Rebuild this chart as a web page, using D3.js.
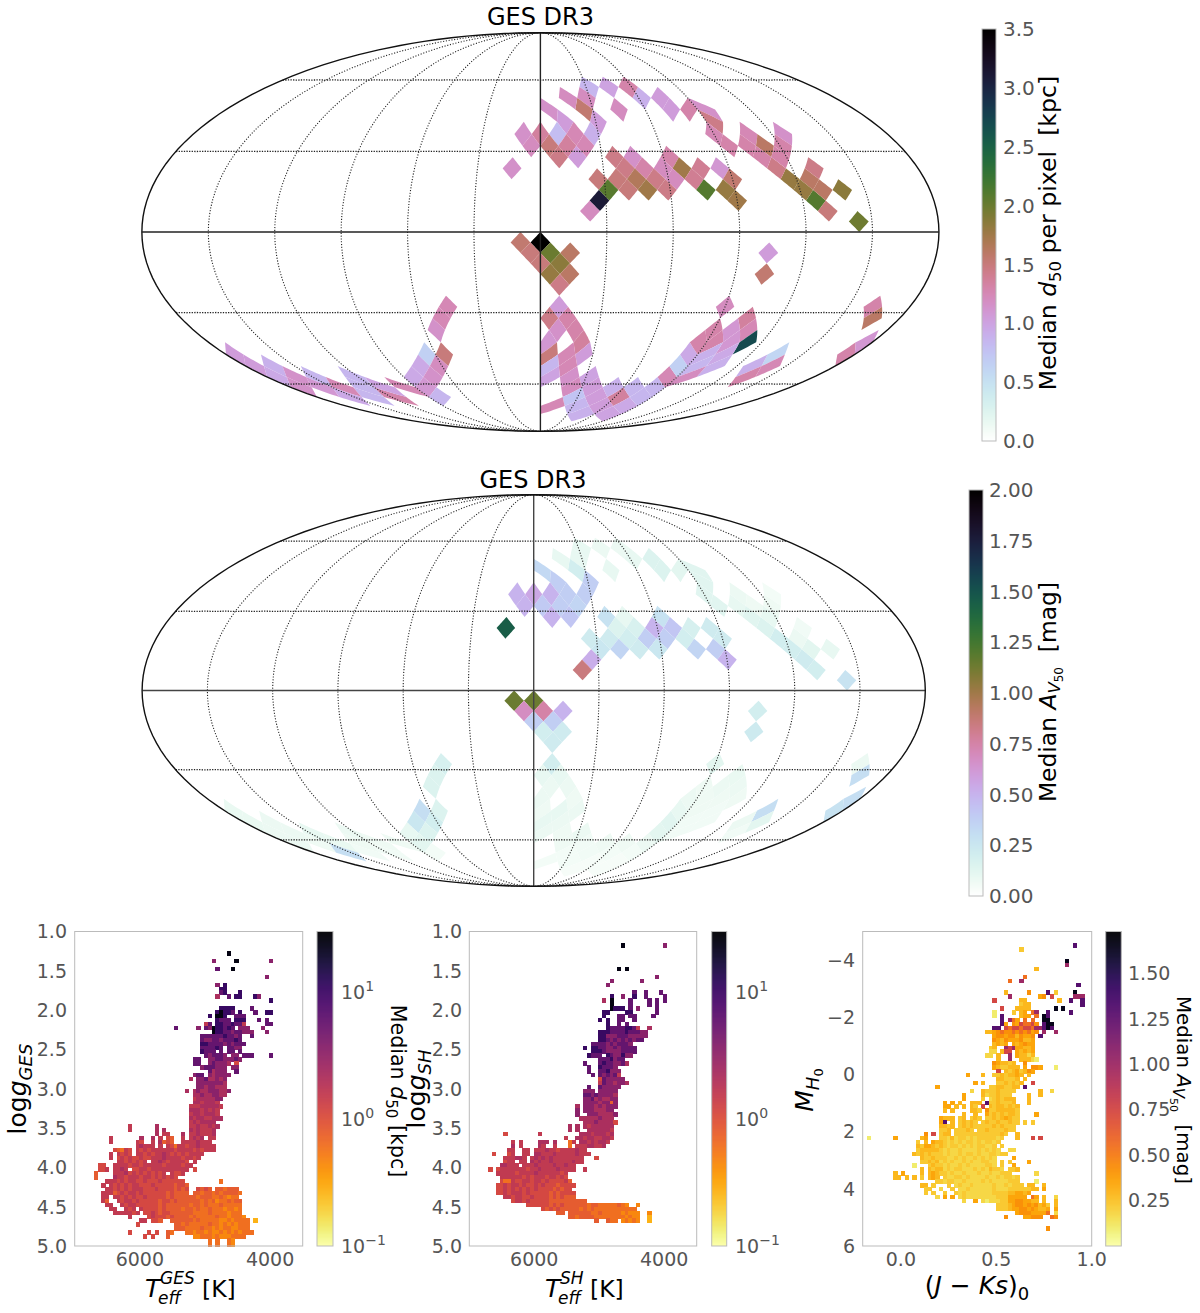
<!DOCTYPE html>
<html><head><meta charset="utf-8"><style>
body{margin:0;background:#fff}
text{font-family:"DejaVu Sans",sans-serif}
</style></head><body><svg id="s" width="1200" height="1313"></svg>
<script src="https://cdn.jsdelivr.net/npm/d3@7"></script>
<script>
// HEALPix pixels (ring,column in half-steps), nside 10
const pixelIds=["19,32","17,28","18,29","16,31","16,29","15,28","14,29","15,26","14,25","16,27","11,24","11,28","12,25","12,23","12,27","13,24","13,26","9,18","9,22","10,21","11,20","12,21","8,15","9,16","8,13","7,12","7,10","7,8","8,7","9,6","8,5","9,10","9,2","10,3","11,2","11,4","11,6","10,7","12,3","12,1","12,5","11,0","11,-2","12,-1","13,2","13,4","14,-3","13,8","13,10","14,9","14,11","13,14","14,13","14,15","14,17","14,19","15,20","15,16","15,14","15,12","15,10","15,8","15,6","16,7","16,9","16,11","16,13","16,17","16,19","17,20","17,6","18,5",
"21,0","21,-2","22,1","22,-1","22,3","23,0","23,2","24,1","24,3","25,2","27,2","28,1","28,3","29,2","29,4","30,1","30,5","31,2","31,4","31,6","32,3","32,5","33,4","33,6","33,8","34,7","34,9","35,8","35,10","36,7","36,9","36,11","37,10","37,12","35,12","36,13","34,11","34,13","35,14","34,15","33,16","32,17","31,18","30,19","29,20","30,21","30,23","28,23","29,24","29,22","30,25","31,22","31,24","32,23","32,25","33,24","27,20","31,30","32,29","33,30","32,31","27,36","28,37","31,38","30,39","22,23","24,23","27,-10","28,-11","29,-12","31,-12","31,-14","32,-13","32,-15","33,-16","33,-14","34,-15","35,-14","34,-25","35,-28","35,-30","34,-29","34,-27","33,-32","34,-35","34,-33","34,-31","33,-28","35,-32","31,-38","32,-35","32,-37","33,-36","33,-34"];
const d50Median=[1.98,2.1,1.5,1.85,1.6,1.6,1.45,1.8,1.45,1.8,1.25,1.15,1.6,1.3,1.3,1.3,1.3,1.3,1.15,1.45,1.25,1.3,1.05,1.05,.9,1.3,1,.85,1.2,1.55,1.2,1.2,1.15,1.05,.8,1.25,.9,1.05,1.35,1.5,1.25,1.35,1.15,1.2,1.45,1.05,1.15,1.45,1.15,1.45,1.3,1.3,1.2,1.75,1.4,1.1,1.55,1.4,1.2,1.45,1.65,1.5,1.5,2.08,1.5,1.75,1.45,2.1,1.8,1.75,3.1,1.2,
3.5,1.55,2,1.5,1.6,1.5,1.85,1.8,1.6,1.45,1.05,1.45,1.3,1.15,1.3,1.1,1.35,1.5,1.25,1.05,.85,1.25,1,1.15,1,1.2,1.05,.75,1.05,1.25,.85,1.05,.9,1,1.35,.95,.9,.85,.85,.85,1.25,.65,.95,1.3,1.3,1.3,1.1,1.35,1.25,1.1,2.7,.9,.95,.85,.9,1.2,1.2,.6,.9,1.3,1.25,1.3,1.6,1.3,1.1,1.05,1.55,1.25,1.25,1.15,1.5,.65,1.2,.95,.95,1.15,1.1,.85,1.25,1.3,.85,.85,1,.85,1.15,1.1,1.25,.85,.95,1.05,.9,1.05,.95,1.15];
const avMedian=[.27,.22,.2,.1,.12,.08,.06,.2,.15,.2,.08,.05,.07,.1,.07,.13,.1,.12,.13,.13,.13,.13,.15,.15,.1,.08,.08,.1,.1,.2,.1,.1,.33,.38,.5,.38,.38,.38,.38,.4,.35,.55,.5,.5,.5,.42,1.45,.28,.1,.15,.17,.28,.5,.42,.18,.22,.22,.2,.38,.38,.2,.22,.22,.25,.35,.22,.25,.35,.38,.5,.52,.85,
1.14,1.14,.75,.68,.5,.38,.38,.2,.22,.22,.2,.1,.1,.08,.08,.08,.07,.07,.1,.08,.1,.08,.08,.07,.08,.07,.06,.05,.06,.05,.05,.04,.04,.04,.05,.04,.07,.07,.05,.08,.12,.13,.1,.08,.07,.07,.07,.09,.08,.08,.07,.07,.06,.06,.06,.06,.12,.3,.08,.06,.12,.08,.3,.28,.3,.2,.23,.18,.15,.15,.15,.3,.2,.25,.1,.15,.12,.05,.07,.06,.06,.07,.07,.1,.08,.07,.09,.08,.3,.09,.08,.09,.08,.08];

// 2D histogram rows: "startCol:levels" per row, 60 columns by 80 rows
const teffGesRows={5:"40:x",7:"36:7 42:x 51:7",9:"37:8 41:x",11:"50:7",13:"37:7 39:9",14:"38:99",15:"38:89 43:9",16:"37:6 40:8 42:99 47:97",17:"51:9",19:"38:9999 46:8",20:"37:9x99 41:8 43:9 47:8 50:99",21:"35:9 37:xx9 42:8 43:88",22:"37:988 40:8 42:999 48:8 50:8",23:"34:5 35:8 37:9988 41:9 42:88 44:5 50:88",24:"26:8 32:7 34:87 36:x9989 41:8 43:777 49:7",25:"36:x99887 42:88777 50:7",26:"33:888 36:8889887 43:8 46:8",27:"33:87788 38:788898",28:"33:9988 37:88787888",29:"33:8888 37:98 40:8877",30:"33:9888 38:8 40:88 43:8",31:"34:878 37:887 41:77 44:888 51:8",32:"31:88 35:7788 39:77 41:787",33:"31:88 35:787 38:7 39:76 42:4",34:"33:7888 37:777 41:77",35:"35:8 36:6777 42:8",36:"31:788 35:7 36:67776 40:7",37:"30:6 32:778 35:66767",38:"32:77 34:77776 38:7 39:6",39:"32:77 34:67767 38:66",40:"29:6 31:6766 35:77766 40:7",41:"31:66766776 39:6",42:"31:56666677",43:"31:6656665",44:"30:555 33:666665",45:"30:6665 34:6 35:565",46:"30:56656 35:665",47:"30:6566 34:55666",48:"30:5656 34:666",49:"14:5 21:6 30:5565 34:5656",50:"14:5 21:6 23:6 30:6565 34:556",51:"21:6 23:55 28:6 30:55655 35:56",52:"9:5 17:6 20:6 22:5 24:43 28:5 30:5656 35:55",53:"9:5 16:54 20:5 22:6 23:3 24:43 28:55 30:55655 35:5",54:"16:565 19:55 22:5 24:542 27:55 29:45565 34:55 36:5",55:"10:432 13:54 16:5454555 23:55 25:5 26:45555454555",56:"9:5 11:5454 16:55454 21:55654 26:54545555",57:"9:5 11:4545 15:4 16:45445 21:5565 25:55545545",58:"11:554 14:5 15:4545 20:55654 25:55 27:554 31:5",59:"6:44 10:5555 14:455 17:45555 22:54 24:5 25:55544 29:55",60:"6:445 10:5565 15:4 16:4554 20:555 23:55 25:555 28:5 29:5 31:4",61:"5:3 10:5 11:556 14:4 15:5 16:4545 20:4545 25:5445",62:"5:3 10:655 13:4 14:55 16:545 19:5454 23:5454",63:"8:5 9:55 11:454 14:554 17:4544 21:454 24:4444 28:4 38:2",64:"7:5 9:54545 14:4 15:5544 19:4544 23:444 26:344 29:3",65:"8:5 9:54 11:5 12:4545 16:5544 20:4544 24:4434 28:34 32:4343 37:3323 41:33",66:"7:55 9:5 10:3 11:4545 15:5454 19:4444 23:4343 27:333 31:3323 35:32323 40:3332",67:"7:55 10:5 11:5454 15:5445 19:4444 23:4343 27:3333 31:3233 35:32 37:23 39:2 40:1 41:22",68:"7:53 11:54 13:5545 17:4444 21:4344 25:3433 29:3333 33:2323 37:1223 41:233",69:"8:55 12:5 13:4554 17:4444 21:4343 25:3333 29:3233 33:2322 37:2322 41:2 42:22",70:"9:55 13:545 17:5444 21:4343 25:3332 29:3323 33:2232 37:2212 41:212",71:"10:55555 15:4 16:5 18:4454 22:3443 26:3333 30:3222 34:2322 38:2212 42:22",72:"14:5 19:4544 23:4343 27:3332 31:3222 35:2232 39:2122 43:2 44:1",73:"17:55 20:443 25:33 27:3333 31:2322 35:2221 39:1212 43:222 47:0",74:"16:4 26:332 29:3222 33:2232 37:2121 41:2122 45:2",75:"26:33 28:3222 32:2322 36:1212 40:2112 44:22",76:"14:4 19:4 21:4 24:32 29:2212 33:2121 37:1212 41:1212 45:22",77:"18:4 20:4 24:3 31:1122 35:2121 39:1122 43:22",78:"35:2 37:2 40:21",79:"35:2 37:2 40:21"};
const teffShRows={3:"40:x 51:7",9:"39:x 41:x",11:"49:7",12:"37:7 45:7",13:"36:7",15:"43:8 46:8 50:8",16:"37:9 40:7 43:9 46:8 51:8",17:"35:6 37:x 42:8 47:8 49:8 51:8",18:"37:x 42:8 47:8 49:8",19:"37:x999 42:8 44:7 49:8",20:"35:99 41:99 49:8",21:"35:9 39:88 42:88 48:8",22:"34:9 36:9 39:88 43:8",23:"36:9 39:8 41:8",24:"36:98888 41:998 44:5 47:6",25:"34:9 35:99888 40:898 43:8877",26:"34:9 35:9 36:7778 40:88 42:777 45:77",27:"34:99 36:8787 40:8787 44:88",28:"32:8888 36:7878 40:887",29:"30:9 32:9988 36:7787 40:8888",30:"32:9998 36:7777 40:8888",31:"31:9 32:888 36:9877 40:9 41:77",32:"34:8889 38:788",33:"30:8 34:898 37:8778 41:6",34:"31:8 34:98 36:8 37:87",35:"31:8 34:889 37:777",36:"32:8 34:8 35:7878 39:5",37:"34:4 35:877 38:777",38:"34:5 35:877 38:6776",39:"31:8 34:877 37:777",40:"30:777 34:77 36:776 38:7",41:"30:8878 34:777 37:76",42:"30:7 31:7867 35:66 37:77",43:"30:77 32:7 33:7677 37:37",44:"28:6 30:777 33:6767 37:77",45:"28:7 30:777 33:6667 37:7",46:"28:7 31:7776 35:6667",47:"29:66 31:6667 35:666",48:"30:6667 34:66665 38:4",49:"26:6 28:6 30:6566 34:6666",50:"26:6 28:6 31:6666 35:665",51:"9:4 18:5 29:6 30:6656 34:6656",52:"25:5 28:66 30:5665 34:5665",53:"11:5 13:5 18:666 22:6 26:2 27:5 29:6656 33:5665",54:"11:6 13:5 18:65 22:5 26:2 28:5 29:5566 33:556",55:"10:55 14:55 17:55565 22:5455 26:5 27:5655",56:"6:4 10:4 11:5 14:55 17:6655 21:5655 25:5 26:5565 30:55",57:"9:555 12:6 13:65 16:565 19:6565 23:5555 27:555 33:4",58:"9:455 13:5 14:5 16:6565 20:5655 24:5556 28:55",59:"8:6655 12:5 14:5 15:5 16:5655 20:5565 24:5655",60:"5:4 7:45 9:5555 12:5 13:55 15:4 16:5565 20:5556 24:5555 30:5",61:"7:555 10:55 12:4555 16:5655 20:5555 24:45",62:"8:5 9:5 10:555 12:5 13:5454 17:5554 21:5545 25:4",63:"8:4 9:225 11:544 14:5545 18:5454 22:4445 26:3",64:"7:44 9:545 12:5454 16:4545 20:4443 24:4444",65:"7:4 8:45 10:4545 14:4545 18:4444 22:3434 26:4",66:"7:44 9:545 12:5545 16:4444 20:4343 24:444 27:4",67:"9:55 11:45 13:5445 17:4444 21:3434 25:333",68:"11:45 13:5454 17:4444 21:3333 25:3333 29:3 30:3",69:"15:44 17:4444 21:3434 25:3333 29:3323 33:3222 37:2232 41:1 44:1",70:"19:4 20:3434 24:3333 28:3232 32:3222 36:2222 40:2222",71:"23:33 26:3333 30:3322 34:3222 38:2212 42:11 44:1 47:1",72:"26:3 27:3233 31:3322 35:2222 39:2212 43:11 47:0",73:"33:3 36:322 40:1212 44:1 47:0"};
const jkRows={3:"55:p",4:"41:3",7:"53:x",8:"53:9",9:"45:4",11:"42:7",12:"38:7 41:9",13:"56:p",15:"37:4 43:6 48:p 50:3 55:x",16:"38:9 46:56 49:8 55:999",17:"34:8 41:44 51:4 54:p 57:p",18:"41:344 57:p",19:"36:8 40:4444 50:x 52:x",20:"34:1 39:3 41:45 44:79 48:p 54:p",21:"34:1 36:p 41:4 42:55 45:7 47:xp",22:"36:p 38:9 39:75 42:7 44:7 47:xx",23:"36:p 37:5 39:6587 43:786 47:pxx",24:"34:pp 37:8788 41:7887 45:9 46:9 47:pxp",25:"32:4 33:45 35:6 36:7667 40:6767 44:56 47:9 50:9",26:"34:5 35:6656 39:6465 43:56 46:p",27:"34:6 35:5465 39:5564 43:45",28:"34:4 35:545 39:545 42:655",29:"33:34 37:989 40:55 42:445",30:"33:2 34:2 36:4 37:8 38:8 40:545 43:45",31:"32:22 35:4 38:9 40:54 42:424",32:"35:4 38:9 41:444 44:21",33:"34:65 36:4 37:4 38:34 42:6",34:"34:5 35:43 37:34 39:44 42:5 44:665 50:1",35:"35:8 37:4345 41:34 43:65",36:"27:5 31:4 34:3 35:34 37:3445 41:4 43:4",37:"35:443 38:334 42:4",38:"29:5 31:4 35:33 37:4343 41:4 44:8",39:"19:5 33:3 34:3443 38:344 42:p",40:"28:2 31:4 32:33 34:3433 38:33 46:4 49:2",41:"26:5 31:4 32:23 34:3433 38:3 43:4 46:4",42:"26:5 31:3 33:234 36:344 39:4 43:4",43:"21:5 23:5 25:4 28:44 30:4 32:p 33:3343 37:334 43:4",44:"21:55 24:4 26:4 28:4 29:3 31:8 33:4344 37:3434",45:"21:4 23:4 28:44 30:3 32:6 33:3344 37:4443",46:"26:4 29:4 32:5 33:3434 37:3443 45:5",47:"20:5 21:44 23:4 25:3 26:4 28:343 32:3343 36:4543 40:3",48:"20:5 21:p 23:4 25:34 27:343 31:3433 35:4334 39:33 42:3 44:3",49:"20:4 21:43 23:4 25:34 27:3433 31:3334 35:3433 39:3",50:"20:3 21:34 24:3 25:3 26:343 30:3343 34:3334 38:33",51:"16:6 18:8 20:34 22:4 24:33 26:333 29:3333 33:3334 37:3 40:4",52:"1:1 8:5 15:45 20:33 22:24 24:2 25:3 26:3232 30:3333 34:323 40:4 44:8 46:8",53:"14:3 16:4 18:54 20:4 21:323 24:2323 28:3232 32:3323",54:"14:4 15:3 16:5 17:54 19:34 21:323 24:3232 28:3233 32:223 36:3",55:"14:34 16:4 17:4 18:4 19:4 20:3232 24:2322 28:2232 32:3232 38:22",56:"13:43 15:4 16:34 18:33 20:3232 24:2323 28:3232 32:2332 36:3 37:3",57:"15:4 16:33 18:4 19:3 20:3322 24:3232 28:2323 32:232 39:5",58:"15:33 17:43 19:4 20:2323 24:2232 28:3223 32:322 36:3 38:3 43:5",59:"13:1 17:34 19:33 21:2322 25:3232 29:2223 33:32 36:3 39:5",60:"15:4 17:43 19:4 20:4 21:2323 25:3222 29:3232 33:4 34:332 38:33 40:4",61:"8:4 10:5 15:4 17:45 19:43 21:3232 25:2322 29:2322 33:3223 37:33 45:2",62:"8:44 11:4 13:4 15:3 17:4 18:5 19:4 21:3223 25:3232 29:2223 33:2232 37:332 40:3",63:"19:33 21:2332 25:2322 29:2232 33:3222 37:2333 45:1",64:"15:44 18:3 22:3 24:232 27:2322 31:2223 35:2232 39:333 43:44 47:4",65:"16:33 20:2 23:3 25:223 28:2222 32:2232 36:2233 40:3333 44:44 47:5",66:"16:3 18:3 21:3 24:32 26:3222 30:2222 34:3333 38:4455 42:4 43:5",67:"19:2 21:5 23:5 25:2 26:3222 30:2222 34:2333 38:5555 42:5 44:75 47:4 50:2",68:"26:2 29:5 31:2122 35:2333 38:5566 42:55 44:44 47:4 50:4",69:"35:3334 38:4566 42:5656 46:45 48:3 50:4",70:"35:3334 38:4556 42:6565 46:445 50:5",71:"40:5 41:66 43:6555 47:57 50:2",72:"37:6 42:5 43:56 45:66 49:7 50:6",75:"48:6"};

const d50Levels={"0":.27,"1":.45,"2":.62,"3":.82,"4":1.15,"5":1.6,"6":2.2,"7":3.5,"8":6,"9":11,"x":25};
const avLevels={"0":.05,"1":.1,"2":.17,"3":.22,"4":.28,"5":.35,"6":.42,"7":.55,"8":.75,"9":1,"p":1.3,"x":1.65};
const d50Ticks=[0,.5,1,1.5,2,2.5,3,3.5];
const avTicks=[0,.25,.5,.75,1,1.25,1.5,1.75,2];
const loggTicks=[1,1.5,2,2.5,3,3.5,4,4.5,5];
const teffTicks=[6000,4000];
const colorTicks=[.25,.5,.75,1,1.25,1.5];
const jkTicks=[0,.5,1];
const mhTicks=[-4,-2,0,2,4,6];
const logTicks=[.1,1,10];
const parallels=[-60,-30,30,60];
const meridians=[-150,-120,-90,-60,-30,30,60,90,120,150];

const svg=d3.select('#s');
const U=Math.PI/40;
function mollRaw(l,p){let t=p;if(Math.abs(Math.abs(p)-Math.PI/2)>1e-9){for(let k=0;k<60;k++){t-=(2*t+Math.sin(2*t)-Math.PI*Math.sin(p))/(2+2*Math.cos(2*t));}}return[2*Math.SQRT2/Math.PI*l*Math.cos(t),Math.SQRT2*Math.sin(t)];}
function lonlat(xs,ys,xt){const a=Math.abs(ys);const cl=v=>Math.max(-179.95,Math.min(179.95,v));if(a<=Math.PI/4)return[cl(xs*180/Math.PI),Math.asin(8*ys/(3*Math.PI))*180/Math.PI];const g=2-4*a/Math.PI;return[cl((xt+(xs-xt)/Math.max(g,1e-6))*180/Math.PI),Math.sign(ys)*Math.asin(1-g*g/3)*180/Math.PI];}
function pixelOutline(id,proj){const [i,c]=id.split(',').map(Number);const xc=c*U,yc=Math.PI/2-i*U,k=Math.floor((c+40)/20),xt=(-30+20*k)*U,h=U;
 const cs=[[0,h],[h,0],[0,-h],[-h,0],[0,h]],pts=[];
 for(let e=0;e<4;e++)for(let m=0;m<8;m++){const f=m/8;pts.push(proj(lonlat(xc+cs[e][0]+(cs[e+1][0]-cs[e][0])*f,yc+cs[e][1]+(cs[e+1][1]-cs[e][1])*f,xt)));}
 return d3.line()(pts)+'Z';}
function drawMap(R,cx,cy,vals,vmax,lineCol){
 const proj=d3.geoProjection(mollRaw).scale(R).translate([cx,cy]).precision(.1);
 const path=d3.geoPath(proj);
 const color=d3.scaleSequential(t=>d3.interpolateCubehelixDefault(1-t)).domain([0,vmax]);
 const g=svg.append('g');
 g.selectAll('path.px').data(pixelIds).join('path').attr('class','px').attr('d',d=>pixelOutline(d,proj)).attr('fill',(d,i)=>color(vals[i]));
 const ll=(pts)=>({type:'LineString',coordinates:pts});
 parallels.forEach(p=>g.append('path').datum(ll(d3.range(-180,181,10).map(l=>[Math.max(-179.9,Math.min(179.9,l)),p]))).attr('d',path).attr('fill','none').attr('stroke','#222').attr('stroke-width',1.3).attr('stroke-dasharray','1.3 1.3'));
 meridians.forEach(m=>g.append('path').datum(ll(d3.range(-90,91,3).map(p=>[m,Math.max(-89.9,Math.min(89.9,p))]))).attr('d',path).attr('fill','none').attr('stroke','#222').attr('stroke-width',1.1).attr('stroke-dasharray','1.1 1.7'));
 g.append('path').datum(ll(d3.range(-179.9,180,10).concat([179.9]).map(l=>[l,0]))).attr('d',path).attr('fill','none').attr('stroke',lineCol).attr('stroke-width',1.4);
 g.append('path').datum(ll(d3.range(-90,91,5).map(p=>[0,Math.max(-89.9,Math.min(89.9,p))]))).attr('d',path).attr('fill','none').attr('stroke',lineCol).attr('stroke-width',1.4);
 g.append('path').datum({type:'Sphere'}).attr('d',path).attr('fill','none').attr('stroke','#111').attr('stroke-width',1.4);
}
function gradBar(x,y,w,h,scale,domainTop,domainBot,log){
 const g=svg.append('g');const n=Math.ceil(h);
 const sy=(log?d3.scaleLog():d3.scaleLinear()).domain([domainBot,domainTop]).range([y+h,y]);
 g.selectAll('rect').data(d3.range(n)).join('rect').attr('x',x).attr('y',d=>y+d).attr('width',w).attr('height',d=>Math.min(1.4,y+h-(y+d))).attr('fill',d=>scale(sy.invert(Math.min(y+d+.5,y+h))));
 g.append('rect').attr('x',x).attr('y',y).attr('width',w).attr('height',h).attr('fill','none').attr('stroke','#bbb').attr('stroke-width',1);
 return sy;
}
const TICK='#555';
function tick(x,y,t,fs,anchor){return svg.append('text').attr('x',x).attr('y',y).attr('dy','.36em').attr('text-anchor',anchor||'start').attr('font-size',fs).attr('fill',TICK).text(t);}

// maps
drawMap(140.9,540.4,232,d50Median,3.5,'#222');
drawMap(138.45,533.7,690.5,avMedian,2,'#444');
svg.append('text').attr('x',540.5).attr('y',25).attr('text-anchor','middle').attr('font-size',24).text('GES DR3');
svg.append('text').attr('x',533).attr('y',488).attr('text-anchor','middle').attr('font-size',24).text('GES DR3');
const mapC1=d3.scaleSequential(t=>d3.interpolateCubehelixDefault(1-t)).domain([0,3.5]);
const s1=gradBar(982,29,14,412,mapC1,3.5,0,false);
d50Ticks.forEach(v=>tick(1003,s1(v),v.toFixed(1),20));
const mapC2=d3.scaleSequential(t=>d3.interpolateCubehelixDefault(1-t)).domain([0,2]);
const s2=gradBar(969,490,14,406,mapC2,2,0,false);
avTicks.forEach(v=>tick(989,s2(v),v.toFixed(2),20));
function rotLabel(x,y,rot,parts,fs){const t=svg.append('text').attr('transform',`translate(${x},${y}) rotate(${rot})`).attr('text-anchor','middle').attr('font-size',fs);
 parts.forEach(p=>{const s=t.append('tspan').text(p.t).attr('font-style',p.i?'italic':null);if(p.fs)s.attr('font-size',p.fs);if(p.dy)s.attr('dy',p.dy);});return t;}
rotLabel(1056,233,-90,[{t:'Median '},{t:'d',i:1},{t:'50',fs:16.5,dy:5},{t:' per pixel\u00a0\u00a0[kpc]',dy:-5}],23.6);
rotLabel(1056,692,-90,[{t:'Median '},{t:'A',i:1},{t:'V',i:1,fs:16.5,dy:4},{t:'50',fs:12,dy:3},{t:'\u00a0\u00a0[mag]',dy:-7}],23.4);

// heat panels
function panel(rows,px0,px1,levels,color,xDom,yDom){
 const py0=931.5,py1=1246;
 const x=d3.scaleLinear().domain(xDom).range([px0,px1]);
 const y=d3.scaleLinear().domain(yDom).range([py0,py1]);
 const dx=(xDom[1]-xDom[0])/60,dy=(yDom[1]-yDom[0])/80;
 const cells=[];
 Object.keys(rows).forEach(r=>{rows[r].trim().split(/\s+/).forEach(seg=>{const [s,l]=seg.split(':');if(!l)return;[...l].forEach((ch,j)=>{if(levels[ch]!==undefined)cells.push({c:+s+j,r:+r,v:levels[ch]});});});});
 const g=svg.append('g');
 g.selectAll('rect').data(cells).join('rect')
  .attr('x',d=>x(xDom[0]+d.c*dx)).attr('y',d=>y(yDom[0]+d.r*dy))
  .attr('width',Math.abs(x(dx+xDom[0])-x(xDom[0]))+.5).attr('height',Math.abs(y(dy+yDom[0])-y(yDom[0]))+.5)
  .attr('fill',d=>color(d.v)).attr('shape-rendering','crispEdges');
 g.append('rect').attr('x',px0).attr('y',py0).attr('width',px1-px0).attr('height',py1-py0).attr('fill','none').attr('stroke','#bbb').attr('stroke-width',1);
 return {x,y,py0,py1};
}
const logC=d3.scaleSequentialLog(t=>d3.interpolateInferno(1-t)).domain([.1,30]);
const avC=d3.scaleSequential(t=>d3.interpolateInferno(1-t)).domain([0,1.73]);
function labelT(x0,sup,kx){
 const yb=1297;
 svg.append('text').attr('x',x0).attr('y',yb).attr('font-size',25).attr('font-style','italic').text('T');
 svg.append('text').attr('x',x0+15).attr('y',yb-13).attr('font-size',17).attr('font-style','italic').text(sup);
 svg.append('text').attr('x',x0+13).attr('y',yb+7).attr('font-size',17).attr('font-style','italic').text('eff');
 svg.append('text').attr('x',kx).attr('y',yb).attr('font-size',23.5).text('[K]');
}
function loggLabel(x,name){rotLabel(x,1089,-90,[{t:'log'},{t:'g',i:1},{t:name,i:1,fs:18,dy:6}],25);}
function logBar(x,w,tx){const s=gradBar(x,931.5,w,314.5,logC,30,.1,true);
 logTicks.forEach(v=>{const t=svg.append('text').attr('x',tx).attr('y',s(v)).attr('dy','.36em').attr('font-size',19).attr('fill',TICK);t.append('tspan').text('10');t.append('tspan').text(Math.round(Math.log10(v)).toString().replace('-','\u2212')).attr('dy',-8).attr('font-size',14);});}

const p1=panel(teffGesRows,74.7,302.7,d50Levels,logC,[7000,3500],[1,5]);
loggTicks.forEach(v=>tick(67,p1.y(v),v.toFixed(1),19,'end'));
teffTicks.forEach(v=>svg.append('text').attr('x',p1.x(v)).attr('y',1266).attr('text-anchor','middle').attr('font-size',19).attr('fill',TICK).text(v));
labelT(145,'GES',202);loggLabel(26,'GES');
logBar(317,16,341);
rotLabel(391,1091,90,[{t:'Median '},{t:'d',i:1},{t:'50',fs:15,dy:5},{t:'\u00a0[kpc]',dy:-5}],20.6);

const p2=panel(teffShRows,469.3,696.7,d50Levels,logC,[7000,3500],[1,5]);
loggTicks.forEach(v=>tick(462,p2.y(v),v.toFixed(1),19,'end'));
teffTicks.forEach(v=>svg.append('text').attr('x',p2.x(v)).attr('y',1266).attr('text-anchor','middle').attr('font-size',19).attr('fill',TICK).text(v));
labelT(545,'SH',590);loggLabel(425,'SH');
logBar(711.7,15,735);

const p3=panel(jkRows,862.7,1091.7,avLevels,avC,[-.2,1],[-5,6]);
mhTicks.forEach(v=>tick(855,p3.y(v),String(v).replace('-','\u2212'),19,'end'));
jkTicks.forEach(v=>svg.append('text').attr('x',p3.x(v)).attr('y',1266).attr('text-anchor','middle').attr('font-size',19).attr('fill',TICK).text(v.toFixed(1)));
const sc3=gradBar(1105.7,931.5,15.6,314.5,avC,1.73,0,false);
colorTicks.forEach(v=>tick(1128,sc3(v),v.toFixed(2),19));
rotLabel(813,1090,-90,[{t:'M',i:1},{t:'H',i:1,fs:18,dy:6},{t:'0',fs:13,dy:4}],25);
rotLabel(1177,1090,90,[{t:'Median '},{t:'A',i:1},{t:'V',i:1,fs:15,dy:4},{t:'50',fs:11,dy:3},{t:'\u00a0\u00a0[mag]',dy:-7}],19.8);
const jk=svg.append('text').attr('x',977).attr('y',1294).attr('text-anchor','middle').attr('font-size',25);
jk.append('tspan').text('(');jk.append('tspan').text('J').attr('font-style','italic');jk.append('tspan').text(' \u2212 ');jk.append('tspan').text('Ks').attr('font-style','italic');jk.append('tspan').text(')');jk.append('tspan').text('0').attr('font-size',18).attr('dy',6);
</script></body></html>
